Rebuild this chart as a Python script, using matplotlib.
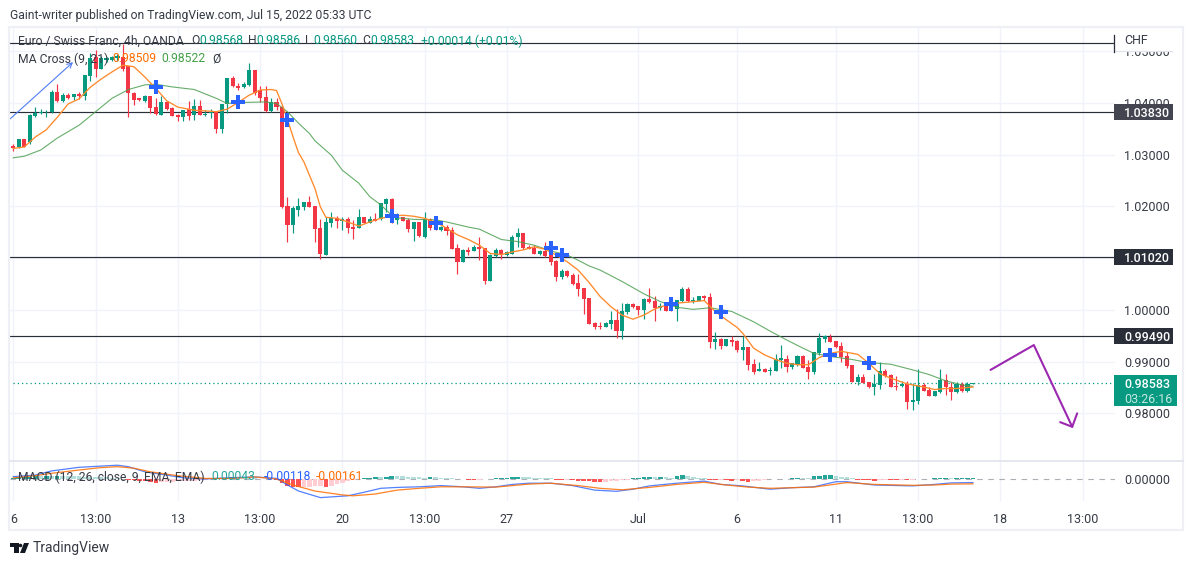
import numpy as np
import matplotlib
matplotlib.use("Agg")
import matplotlib.pyplot as plt
from matplotlib.patches import Rectangle, Polygon

plt.rcParams['font.family'] = ['Roboto', 'DejaVu Sans']

opens = [
    1.0317, 1.0314, 1.0330, 1.0325, 1.0375, 1.0381, 1.0382, 1.0382, 1.0421, 1.0403,
    1.0415, 1.0411, 1.0417, 1.0414, 1.0453, 1.0488, 1.0466, 1.0484, 1.0484, 1.0487,
    1.0489, 1.0471, 1.0420, 1.0409, 1.0403, 1.0414, 1.0392, 1.0377, 1.0401, 1.0391,
    1.0377, 1.0372, 1.0388, 1.0377, 1.0394, 1.0377, 1.0380, 1.0382, 1.0350, 1.0398,
    1.0449, 1.0433, 1.0430, 1.0435, 1.0463, 1.0425, 1.0411, 1.0384, 1.0401, 1.0393,
    1.0201, 1.0164, 1.0193, 1.0199, 1.0208, 1.0201, 1.0159, 1.0107, 1.0167, 1.0178,
    1.0172, 1.0176, 1.0160, 1.0158, 1.0179, 1.0167, 1.0176, 1.0175, 1.0205, 1.0214,
    1.0174, 1.0179, 1.0174, 1.0157, 1.0169, 1.0140, 1.0176, 1.0170, 1.0154, 1.0161,
    1.0154, 1.0119, 1.0093, 1.0116, 1.0113, 1.0122, 1.0119, 1.0056, 1.0104, 1.0116,
    1.0106, 1.0108, 1.0140, 1.0149, 1.0122, 1.0119, 1.0108, 1.0114, 1.0111, 1.0095,
    1.0064, 1.0076, 1.0067, 1.0052, 1.0043, 1.0023, .9975, .9969, .9966, .9973,
    .9980, .9959, .9995, 1.0012, 1.0007, 1.0000, 1.0021, 1.0017, 1.0004, 1.0011,
    1.0009, 1.0002, 1.0017, 1.0040, 1.0017, 1.0017, 1.0026, 1.0024, .9938, .9944,
    .9930, .9942, .9940, .9922, .9928, .9895, .9881, .9886, .9881, .9882,
    .9904, .9906, .9890, .9893, .9911, .9890, .9880, .9916, .9944, .9948,
    .9940, .9930, .9910, .9893, .9861, .9870, .9860, .9850, .9855, .9882,
    .9874, .9853, .9852, .9856, .9822, .9824, .9855, .9845, .9834, .9841,
    .9864, .9851, .9842, .9857, .9844, .98568,
]
closes = [
    1.0312, 1.0330, 1.0315, 1.0377, 1.0380, 1.0383, 1.0383, 1.0421, 1.0403, 1.0416,
    1.0410, 1.0417, 1.0413, 1.0454, 1.0486, 1.0466, 1.0486, 1.0486, 1.0488, 1.0490,
    1.0466, 1.0419, 1.0406, 1.0406, 1.0414, 1.0390, 1.0379, 1.0401, 1.0389, 1.0375,
    1.0372, 1.0386, 1.0375, 1.0394, 1.0377, 1.0379, 1.0382, 1.0350, 1.0398, 1.0448,
    1.0433, 1.0429, 1.0437, 1.0463, 1.0420, 1.0409, 1.0384, 1.0401, 1.0392, 1.0199,
    1.0164, 1.0196, 1.0201, 1.0208, 1.0198, 1.0157, 1.0108, 1.0170, 1.0177, 1.0172,
    1.0176, 1.0159, 1.0156, 1.0179, 1.0167, 1.0175, 1.0172, 1.0206, 1.0214, 1.0174,
    1.0179, 1.0172, 1.0156, 1.0169, 1.0142, 1.0176, 1.0158, 1.0154, 1.0161, 1.0152,
    1.0118, 1.0093, 1.0116, 1.0112, 1.0122, 1.0118, 1.0055, 1.0107, 1.0116, 1.0107,
    1.0111, 1.0141, 1.0149, 1.0120, 1.0118, 1.0109, 1.0114, 1.0105, 1.0093, 1.0064,
    1.0075, 1.0065, 1.0050, 1.0041, 1.0021, .9973, .9966, .9966, .9975, .9980,
    .9959, .9997, 1.0011, 1.0006, 1.0000, 1.0022, 1.0015, 1.0004, 1.0007, .9998,
    .9999, 1.0019, 1.0040, 1.0017, 1.0019, 1.0026, 1.0023, .9938, .9944, .9930,
    .9943, .9938, .9922, .9928, .9893, .9880, .9886, .9880, .9884, .9906,
    .9907, .9890, .9897, .9911, .9888, .9880, .9918, .9946, .9950, .9938,
    .9928, .9908, .9892, .9860, .9870, .9859, .9850, .9857, .9882, .9873,
    .9851, .9850, .9856, .9822, .9826, .9855, .9844, .9834, .9844, .9864,
    .9850, .9842, .9857, .9844, .9857, .98583,
]
highs = [
    1.0320, 1.0330, 1.0330, 1.0378, 1.0392, 1.0389, 1.0386, 1.0426, 1.0437, 1.0419,
    1.0419, 1.0417, 1.0422, 1.0454, 1.0496, 1.0502, 1.0490, 1.0489, 1.0490, 1.0494,
    1.0514, 1.0472, 1.0421, 1.0410, 1.0415, 1.0414, 1.0410, 1.0413, 1.0403, 1.0393,
    1.0379, 1.0386, 1.0404, 1.0407, 1.0406, 1.0386, 1.0389, 1.0383, 1.0398, 1.0448,
    1.0452, 1.0438, 1.0441, 1.0478, 1.0464, 1.0433, 1.0433, 1.0409, 1.0409, 1.0396,
    1.0219, 1.0201, 1.0216, 1.0208, 1.0220, 1.0201, 1.0176, 1.0180, 1.0189, 1.0181,
    1.0180, 1.0179, 1.0174, 1.0195, 1.0180, 1.0181, 1.0187, 1.0206, 1.0216, 1.0216,
    1.0188, 1.0179, 1.0177, 1.0170, 1.0170, 1.0189, 1.0178, 1.0177, 1.0162, 1.0165,
    1.0160, 1.0127, 1.0117, 1.0122, 1.0125, 1.0140, 1.0119, 1.0108, 1.0120, 1.0117,
    1.0113, 1.0145, 1.0158, 1.0149, 1.0125, 1.0125, 1.0116, 1.0131, 1.0119, 1.0096,
    1.0080, 1.0077, 1.0072, 1.0069, 1.0043, 1.0023, .9977, .9977, .9977, .9997,
    1.0001, 1.0013, 1.0013, 1.0014, 1.0007, 1.0023, 1.0042, 1.0026, 1.0013, 1.0013,
    1.0012, 1.0019, 1.0045, 1.0045, 1.0024, 1.0027, 1.0029, 1.0033, .9957, .9945,
    .9943, .9949, .9942, .9950, .9928, .9906, .9899, .9887, .9890, .9915,
    .9932, .9913, .9898, .9913, .9913, .9904, .9918, .9955, .9952, .9953,
    .9940, .9937, .9919, .9893, .9877, .9876, .9860, .9876, .9899, .9885,
    .9877, .9872, .9862, .9862, .9858, .9885, .9858, .9850, .9844, .9886,
    .9877, .9861, .9861, .9861, .9861, .98586,
]
lows = [
    1.0308, 1.0312, 1.0315, 1.0321, 1.0373, 1.0379, 1.0373, 1.0380, 1.0402, 1.0402,
    1.0408, 1.0406, 1.0408, 1.0406, 1.0443, 1.0451, 1.0465, 1.0480, 1.0481, 1.0482,
    1.0462, 1.0373, 1.0396, 1.0404, 1.0402, 1.0380, 1.0377, 1.0377, 1.0386, 1.0375,
    1.0366, 1.0366, 1.0368, 1.0368, 1.0376, 1.0375, 1.0370, 1.0341, 1.0341, 1.0380,
    1.0430, 1.0426, 1.0428, 1.0433, 1.0415, 1.0402, 1.0383, 1.0382, 1.0386, 1.0196,
    1.0132, 1.0149, 1.0181, 1.0193, 1.0198, 1.0132, 1.0098, 1.0106, 1.0161, 1.0158,
    1.0154, 1.0148, 1.0137, 1.0158, 1.0167, 1.0167, 1.0172, 1.0174, 1.0190, 1.0167,
    1.0166, 1.0172, 1.0150, 1.0134, 1.0140, 1.0139, 1.0154, 1.0154, 1.0152, 1.0145,
    1.0118, 1.0069, 1.0093, 1.0106, 1.0113, 1.0096, 1.0050, 1.0056, 1.0102, 1.0098,
    1.0105, 1.0108, 1.0121, 1.0117, 1.0117, 1.0108, 1.0107, 1.0103, 1.0087, 1.0056,
    1.0059, 1.0064, 1.0048, 1.0026, .9992, .9973, .9964, .9964, .9966, .9964,
    .9946, .9944, .9992, 1.0004, .9991, .9982, 1.0013, .9979, .9999, .9998,
    .9998, .9979, 1.0016, 1.0015, 1.0014, 1.0017, 1.0020, .9927, .9925, .9925,
    .9930, .9930, .9919, .9903, .9884, .9876, .9881, .9879, .9875, .9881,
    .9887, .9879, .9886, .9892, .9887, .9866, .9877, .9913, .9937, .9937,
    .9926, .9899, .9887, .9860, .9855, .9858, .9849, .9836, .9848, .9871,
    .9850, .9846, .9851, .9808, .9806, .9818, .9844, .9834, .9833, .9840,
    .9836, .9826, .9840, .9841, .9841, .98560,
]

# moving averages, read at every few bars
ma9_bars = [0, 2, 4, 6, 8, 10, 12, 14, 16, 18, 20, 22, 24, 26, 28, 30, 33, 36, 37, 39, 41, 43, 45, 47, 48, 49, 50, 51, 52,
            53, 55, 56, 57, 59, 61, 63, 65, 67, 69, 71, 73, 75, 77, 79, 81, 83, 85, 87, 89, 91, 93, 95, 97, 99, 101, 103, 105,
            107, 109, 111, 113, 115, 117, 119, 121, 123, 126, 128, 130, 132, 133, 135, 137, 139, 141, 143, 145, 147, 149, 151,
            154, 156, 158, 160, 163, 166, 168, 170, 172, 175]
ma9_vals = [1.0312, 1.0315, 1.0334, 1.0348, 1.0372, 1.0398, 1.0408, 1.0430, 1.0446, 1.0460, 1.0473, 1.0470, 1.0450, 1.0428,
            1.0404, 1.0392, 1.0386, 1.0384, 1.0383, 1.0388, 1.0401, 1.0415, 1.0425, 1.0426, 1.0424, 1.0398, 1.0368, 1.0335, 1.0304,
            1.0286, 1.0235, 1.0199, 1.0179, 1.0177, 1.0170, 1.0162, 1.0170, 1.0177, 1.0181, 1.0183, 1.0181, 1.0177, 1.0170, 1.0158,
            1.0145, 1.0136, 1.0125, 1.0109, 1.0107, 1.0112, 1.0116, 1.0122, 1.0117, 1.0106, 1.0093, 1.0077, 1.0053,
            1.0026, 1.0006, .9990, .9982, .9990, 1.0002, 1.0009, 1.0013, 1.0015, 1.0018, .9997, .9981, .9966, .9955, .9926,
            .9913, .9904, .9897, .9894, .9894, .9908, .9916, .9920,
            .9914, .9897, .9877, .9868, .9857, .9851, .9846, .9848, .9848, .98509]
ma21_bars = [0, 2, 5, 8, 12, 15, 18, 21, 24, 26, 29, 33, 37, 39, 42, 46, 48, 50, 52, 54, 55, 58, 60, 63, 65, 67, 69, 70, 73, 77,
             79, 83, 85, 87, 89, 92, 95, 98, 101, 103, 105, 107, 111, 115, 118, 121, 124, 127, 131, 135, 138, 141, 144, 146,
             149, 153, 156, 160, 164, 167, 170, 173, 175]
ma21_vals = [1.0294, 1.0297, 1.0309, 1.0332, 1.0357, 1.0383, 1.0409, 1.0426, 1.0435, 1.0436, 1.0431, 1.0426, 1.0409, 1.0399,
             1.0401, 1.0402, 1.0399, 1.0383, 1.0361, 1.0341, 1.0327, 1.0299, 1.0270, 1.0245, 1.0219, 1.0203, 1.0183, 1.0178,
             1.0175, 1.0174, 1.0170, 1.0160, 1.0156, 1.0146, 1.0136, 1.0132, 1.0125, 1.0114, 1.0106, 1.0096, 1.0085, 1.0077,
             1.0055, 1.0031, 1.0016, 1.0005, 1.0001, 1.0004, .9997, .9977, .9959, .9942, .9926, .9916, .9910, .9904, .9898,
             .9895, .9884, .9875, .9863, .9855, .98522]

cross_bars = [26, 41, 50, 69, 77, 98, 100, 120, 129, 149, 156]
cross_vals = [1.0431, 1.0402, 1.0367, 1.0182, 1.0168, 1.0120, 1.0106, 1.0011, .9996, .9913, .9897]

level_vals = [1.0383, 1.0102, .9949]
top_line = 1.0515
last_price = .98583

# MACD pane
hist_vals = [
    .0005, .0006, .0007, .0008, .0009, .0009, .0010, .0010, .0011, .0011,
    .0010, .0009, .0009, .0008, .0008, .0007, .0007, .0006, .0005, .0003,
    .0001, -.0003, -.0004, -.0006, -.0007, -.0009, -.0012, -.0011, -.0010, -.0009,
    -.0008, -.0007, -.0006, -.0005, -.0004, -.0003, .0001, .0002, .0003, .0005,
    .0006, .0005, .0004, .0003, .0002, .0001, .0001, -.0001, -.0004, -.0012,
    -.0022, -.0027, -.0028, -.0026, -.0025, -.0024, -.0023, -.0026, -.0022, -.0017,
    -.0012, -.0007, -.0002, .0001, .0002, .0004, .0006, .0006, .0008, .0011,
    .0010, .0009, .0008, .0007, .0006, .0005, .0007, .0006, .0005, .0004,
    .0003, .0001, -.0001, -.0002, -.0003, -.0002, -.0001, .0001, .0002, .0004,
    .0005, .0007, .0008, .0007, .0006, .0005, .0004, .0003, .0002, -.0002,
    -.0003, -.0003, -.0004, -.0005, -.0006, -.0007, -.0009, -.0011, -.0009, -.0007,
    -.0005, -.0003, -.0002, .0003, .0005, .0006, .0008, .0006, .0007, .0006,
    .0005, .0010, .0012, .0009, .0007, .0005, .0002, -.0002, -.0003, -.0003,
    -.0004, -.0005, -.0004, -.0008, -.0009, -.0007, -.0005, -.0002, -.0001, -.00005,
    -.00003, .0001, .0002, .0005, .0004, .0003, .0009, .0010, .0012, .0013,
    .0010, .0008, .0006, .0004, -.0002, -.0003, -.0004, -.0005, -.0003, -.0002,
    -.0003, -.0004, -.0003, -.0004, -.0003, -.0001, -.00005, .0001, .0003, .0004,
    .0005, .0002, .0003, .00035, .0004, .00043,
]
macd_bars = [0, 4, 7, 12, 16, 19, 21, 24, 28, 31, 35, 39, 44, 48, 50, 52, 56, 61, 64, 67, 70, 74, 78, 82, 85, 88,
             91, 94, 98, 102, 106, 110, 113, 116, 121, 126, 129, 133, 138, 142, 146, 150, 152, 157, 164, 168, 171, 175]
macd_vals = [.0008, .0013, .0027, .0039, .0043, .0046, .0041, .0024, .0013, .0004, 0, .0004, .0007, .0002, -.0020, -.0040,
             -.0062, -.0056, -.0044, -.0031, -.0028, -.0026, -.0022, -.0026, -.0031, -.0026,
             -.0018, -.0014, -.0014, -.0022, -.0037, -.0041, -.0034, -.0023, -.0014, -.0007, -.0018, -.0023, -.0034,
             -.0029, -.0026, -.0009, -.0009, -.0020, -.0023, -.0018, -.0013, -.00118]
signal_bars = [0, 4, 7, 12, 16, 19, 22, 25, 30, 35, 40, 44, 48, 51, 55, 60, 62, 66, 70, 74, 78, 82, 88,
               94, 98, 103, 107, 111, 116, 121, 126, 130, 134, 138, 142, 146, 150, 152, 157, 164, 168, 171, 175]
signal_vals = [.0004, .0011, .0019, .0030, .0038, .0041, .0036, .0024, .0011, .0002, .0002, .0007, 0, -.0020, -.0040, -.0053,
               -.0056, -.0050, -.0037, -.0031, -.0026, -.0026, -.0027,
               -.0017, -.0014, -.0022, -.0031, -.0036, -.0028, -.0018, -.0011, -.0020, -.0027, -.0031, -.0029, -.0027,
               -.0017, -.0012, -.0018, -.0021, -.0020, -.0017, -.00161]

# time axis
time_ticks = [0, 15, 30, 45, 60, 75, 90, 114, 132, 150, 165, 180, 195]
time_labels = ['6', '13:00', '13', '13:00', '20', '13:00', '27', 'Jul', '6', '11', '13:00', '18', '13:00']
price_ticks = [1.05, 1.04, 1.03, 1.02, 1.01, 1.00, .99, .98]
price_labels = ['1.05000', '1.04000', '1.03000', '1.02000', '', '1.00000', '0.99000', '0.98000']

W, H = 1194, 565
UP, DOWN = '#089981', '#f23645'
GRID = '#f0f3fa'
TXT = '#363a45'
XLIM = (-0.6, 200.9)
YLIM = (.97079, 1.05449)
LEG = 8.7


def box(left, top, right, bottom):
    return [left / W, 1 - bottom / H, (right - left) / W, (bottom - top) / H]


fig = plt.figure(figsize=(W / 100, H / 100), dpi=100, facecolor='white')
ax = fig.add_axes(box(10, 28, 1115, 461))
ax2 = fig.add_axes(box(10, 461, 1115, 501))
over = fig.add_axes([0, 0, 1, 1], zorder=10)
over.set_xlim(0, W)
over.set_ylim(H, 0)
over.axis('off')
over.patch.set_alpha(0)

bars = np.arange(len(closes))
o, c, hi, lo = map(np.array, (opens, closes, highs, lows))
colors = np.where(c >= o, UP, DOWN)

# price pane
ax.set_xlim(*XLIM)
ax.set_ylim(*YLIM)
ax.set_yticks(price_ticks, price_labels)
ax.yaxis.tick_right()
ax.set_xticks(time_ticks, [])
ax.tick_params(axis='both', length=0)
ax.tick_params(axis='y', pad=6.5, labelsize=9, labelcolor=TXT)
ax.grid(True, color=GRID, lw=1)
ax.set_axisbelow(True)
for s in ax.spines.values():
    s.set_visible(False)

ax.plot([bars[0], 201], [last_price, last_price], ls=(0, (1, 2.4)), color=UP, lw=0.9, zorder=1.5)
for lv in level_vals + [top_line]:
    ax.axhline(lv, color='#2a2e39', lw=0.85, zorder=2)
ax.vlines(bars, lo, hi, color=colors, lw=0.85, zorder=3)
ax.bar(bars, np.abs(c - o), bottom=np.minimum(o, c), width=0.74, color=colors, lw=0, zorder=3.2)
ax.plot(ma21_bars, ma21_vals, color='#4c9f50', lw=0.8, alpha=0.85, zorder=4)
ax.plot(ma9_bars, ma9_vals, color='#ff8a2b', lw=0.95, zorder=4.2)
ax.plot(cross_bars, cross_vals, ls='none', marker='P', ms=9.5, mew=0, color='#2962ff', zorder=5)

# drawings
ax.annotate('', xy=(10.9, 1.0479), xytext=(-0.6, 1.0369),
            arrowprops=dict(arrowstyle='->', color='#4f7df5', lw=0.8, shrinkA=0, shrinkB=0, mutation_scale=9), zorder=4)
ax.plot([178.2, 186.1, 193.1], [.9884, .9932, .9774], color='#9c27b0', lw=1.5, zorder=5, solid_capstyle='round')
ax.plot([190.9, 193.1, 194.0], [.9783, .9774, .9800], color='#9c27b0', lw=1.5, zorder=5, solid_capstyle='round')

# macd pane
ax2.set_xlim(*XLIM)
ax2.set_ylim(-.00733, .006)
ax2.set_xticks(time_ticks, time_labels)
ax2.set_yticks([0], ['0.00000'])
ax2.yaxis.tick_right()
ax2.tick_params(axis='both', length=0, labelsize=9, labelcolor=TXT)
ax2.tick_params(axis='x', pad=8.5)
ax2.tick_params(axis='y', pad=6.5)
ax2.grid(True, axis='x', color=GRID, lw=1)
ax2.set_axisbelow(True)
for s in ax2.spines.values():
    s.set_visible(False)
ax2.axhline(0, color='#787b86', lw=0.8, ls=(0, (5, 5)), alpha=0.6, zorder=1)
hv = np.array(hist_vals)
prev = np.r_[hv[0] - 1e-4, hv[:-1]]
hist_colors = np.where(hv >= 0, np.where(hv > prev, '#26a69a', '#b2dfdb'), np.where(hv < prev, '#ff5252', '#ffcdd2'))
ax2.bar(bars, hv, width=0.85, color=hist_colors, lw=0, zorder=2)
ax2.plot(macd_bars, macd_vals, color='#2962ff', lw=0.9, alpha=0.8, zorder=3)
ax2.plot(signal_bars, signal_vals, color='#ff6d00', lw=0.9, alpha=0.85, zorder=3.2)

# frame and separators
over.add_patch(Rectangle((9, 27), 1174, 503, fill=False, ec='#eef0f5', lw=1.6))
over.plot([10, 1183], [461, 461], color='#e0e3eb', lw=1.2)

# hide top half of the clipped 1.05000 label, then CHF cell
over.add_patch(Rectangle((1116, 29), 66, 22, fc='white', ec='none', zorder=3))
over.plot([1115, 1172], [51, 51], color='#e0e3eb', lw=0.9, zorder=4)
over.plot([1114, 1114], [35, 52], color='#2a2e39', lw=0.9, zorder=4)
over.text(1124, 41, 'CHF', fontsize=9, color=TXT, va='center', zorder=5)


def y_px(p):
    return 28 + (YLIM[1] - p) / (YLIM[1] - YLIM[0]) * (461 - 28)


# price tags
for lv, fc in zip(level_vals, ['#434651', '#2a2e39', '#2a2e39']):
    y = y_px(lv)
    over.add_patch(Rectangle((1114, y - 8), 59, 16, fc=fc, ec='none', zorder=3))
    over.text(1124, y, f'{lv:.5f}', color='white', fontsize=9, fontweight='medium', va='center_baseline', zorder=5)
over.add_patch(Rectangle((1114, 375), 63, 31, fc=UP, ec='none', zorder=3))
over.text(1124, 383, '0.98583', color='white', fontsize=9, fontweight='medium', va='center_baseline', zorder=5)
over.text(1124, 398, '03:26:16', color='#c4e8e0', fontsize=9, va='center_baseline', zorder=5)

# header and legends
over.text(10, 15, 'Gaint-writer published on TradingView.com, Jul 15, 2022 05:33 UTC', fontsize=8.75, color=TXT, va='center')
over.text(18, 41, 'Euro / Swiss Franc, 4h, OANDA', fontsize=LEG, color=TXT, va='center')
for x, head, val in [(191, 'O', '0.98568'), (248, 'H', '0.98586'), (305, 'L', '0.98560'), (362, 'C', '0.98583')]:
    over.text(x, 41, head, fontsize=LEG, color=TXT, va='center')
    over.text(x + 8.5, 41, val, fontsize=LEG, color=UP, va='center')
over.text(421, 41, '+0.00014 (+0.01%)', fontsize=LEG, color=UP, va='center')
over.text(18, 59, 'MA Cross (9, 21)', fontsize=LEG, color=TXT, va='center')
over.text(112, 59, '0.98509', fontsize=LEG, color='#ff6d00', va='center')
over.text(161, 59, '0.98522', fontsize=LEG, color='#43a047', va='center')
over.text(212, 59, 'Ø', fontsize=LEG, color=TXT, va='center')
over.text(18, 477, 'MACD (12, 26, close, 9, EMA, EMA)', fontsize=LEG, color=TXT, va='center')
over.text(211, 477, '0.00043', fontsize=LEG, color='#26a69a', va='center')
over.text(264, 477, '-0.00118', fontsize=LEG, color='#2962ff', va='center')
over.text(316, 477, '-0.00161', fontsize=LEG, color='#ff6d00', va='center')

# footer logo
over.add_patch(Polygon([(10, 543), (19, 543), (19, 553), (14, 553), (14, 547), (10, 547)], fc='#131722', ec='none'))
over.add_patch(Polygon([(24, 543), (29, 543), (25, 553), (20, 553)], fc='#131722', ec='none'))
over.plot([20.2], [545], marker='o', ms=2.6, mew=0, color='#131722')
over.text(33, 548, 'TradingView', fontsize=10, color='#363a45', va='center')

fig.savefig('out.png', dpi=100)
